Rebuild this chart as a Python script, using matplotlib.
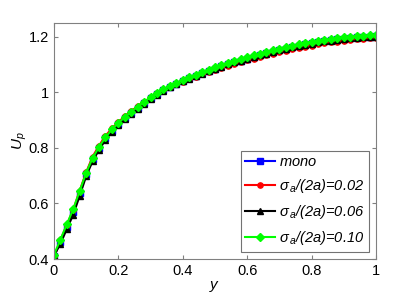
import numpy as np
import matplotlib
matplotlib.use('Agg')
import matplotlib.pyplot as plt

plt.rcParams['font.family'] = ['Liberation Sans', 'DejaVu Sans']
plt.rcParams['mathtext.fontset'] = 'custom'
plt.rcParams['mathtext.rm'] = 'Liberation Sans'
plt.rcParams['mathtext.it'] = 'Liberation Sans:italic'

y_pos = np.linspace(0, 1, 51)

up_mono = [0.410, 0.462, 0.515, 0.570, 0.638, 0.705, 0.760, 0.800, 0.835, 0.862,
           0.886, 0.906, 0.926, 0.945, 0.962, 0.978, 0.994, 1.007, 1.019, 1.030,
           1.041, 1.050, 1.059, 1.068, 1.077, 1.085, 1.093, 1.100, 1.107, 1.114,
           1.121, 1.128, 1.134, 1.140, 1.146, 1.152, 1.157, 1.162, 1.167, 1.172,
           1.176, 1.180, 1.184, 1.187, 1.190, 1.193, 1.195, 1.197, 1.199, 1.200,
           1.201]
up_002 = [0.405, 0.468, 0.522, 0.578, 0.646, 0.712, 0.768, 0.808, 0.843, 0.870,
          0.893, 0.913, 0.932, 0.950, 0.966, 0.981, 0.996, 1.008, 1.019, 1.029,
          1.038, 1.047, 1.056, 1.064, 1.072, 1.080, 1.087, 1.094, 1.101, 1.108,
          1.115, 1.121, 1.127, 1.133, 1.139, 1.144, 1.149, 1.154, 1.159, 1.164,
          1.168, 1.172, 1.176, 1.179, 1.182, 1.185, 1.188, 1.190, 1.192, 1.194,
          1.196]
up_006 = [0.412, 0.455, 0.508, 0.560, 0.628, 0.698, 0.752, 0.793, 0.829, 0.857,
          0.881, 0.902, 0.922, 0.941, 0.959, 0.975, 0.991, 1.005, 1.017, 1.028,
          1.039, 1.048, 1.058, 1.067, 1.076, 1.084, 1.092, 1.100, 1.107, 1.114,
          1.121, 1.127, 1.133, 1.139, 1.145, 1.151, 1.156, 1.161, 1.166, 1.171,
          1.175, 1.179, 1.183, 1.186, 1.189, 1.192, 1.194, 1.196, 1.198, 1.199,
          1.200]
up_010 = [0.415, 0.470, 0.525, 0.580, 0.645, 0.710, 0.763, 0.803, 0.838, 0.866,
          0.890, 0.910, 0.930, 0.948, 0.965, 0.981, 0.997, 1.010, 1.022, 1.033,
          1.044, 1.054, 1.063, 1.072, 1.081, 1.089, 1.097, 1.105, 1.112, 1.119,
          1.126, 1.133, 1.139, 1.145, 1.151, 1.157, 1.162, 1.167, 1.172, 1.177,
          1.181, 1.185, 1.189, 1.192, 1.195, 1.198, 1.200, 1.202, 1.204, 1.205,
          1.206]

labels = [r'$mono$', r'$\sigma_{\,a}$/(2a)=0.02', r'$\sigma_{\,a}$/(2a)=0.06', r'$\sigma_{\,a}$/(2a)=0.10']
series = [up_mono, up_002, up_006, up_010]
colors = ['#0000ff', '#ff0000', '#000000', '#00ff00']
markers = ['s', 'o', '^', 'D']

fig = plt.figure(figsize=(4.15, 2.95), dpi=100)
ax = fig.add_axes([0.130, 0.122, 0.776, 0.801])

for vals, c, m, lab in zip(series, colors, markers, labels):
    ax.plot(y_pos, vals, color=c, marker=m, markersize=3.8, linewidth=1.5, label=lab)

ax.set_xlim(0, 1)
ax.set_ylim(0.4, 1.25)
ax.set_xticks([0, 0.2, 0.4, 0.6, 0.8, 1])
ax.set_xticklabels(['0', '0.2', '0.4', '0.6', '0.8', '1'])
ax.set_yticks([0.4, 0.6, 0.8, 1, 1.2])
ax.set_yticklabels(['0.4', '0.6', '0.8', '1', '1.2'])
ax.tick_params(direction='in', top=True, right=True, length=3, labelsize=10.5, color='#808080')
for s in ax.spines.values():
    s.set_color('#808080')
ax.set_xlabel(r'$y$', fontsize=11, labelpad=1)
ax.set_ylabel(r'$U_p$', fontsize=11, labelpad=0)

leg = ax.legend(loc='lower right', prop={'style': 'italic', 'size': 10.5},
                fancybox=False, edgecolor='#505050', handlelength=2.0, borderaxespad=0.5,
                labelspacing=0.55, handletextpad=0.3, borderpad=0.3)
leg.get_frame().set_linewidth(0.8)

fig.savefig('out.png', dpi=100)
